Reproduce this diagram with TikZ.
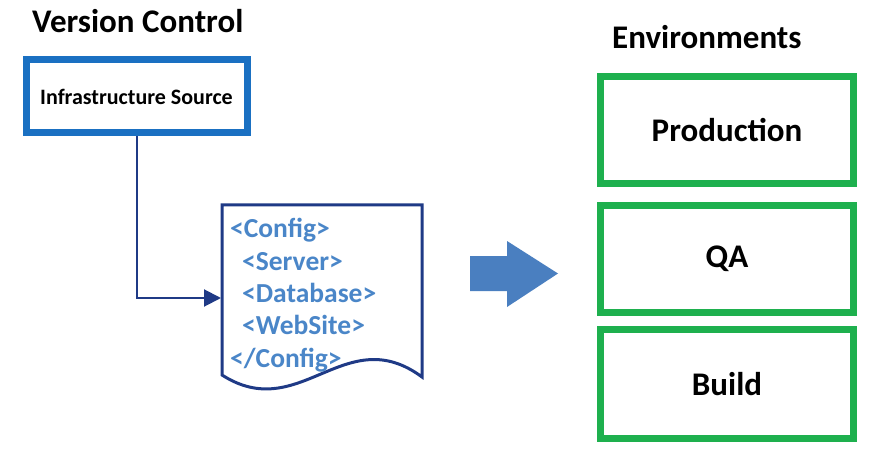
\documentclass[tikz,border=0pt]{standalone}
\usepackage{fontspec}
\setmainfont{Carlito}
\usetikzlibrary{arrows.meta}
\definecolor{srcblue}{HTML}{1A70C2}
\definecolor{envgreen}{HTML}{1EB04E}
\definecolor{navy}{HTML}{1F3A86}
\definecolor{xmlblue}{HTML}{4A86C8}
\definecolor{arrowblue}{HTML}{4A7FC0}
\tikzset{
  title/.style={font=\bfseries\fontsize{33}{36}\selectfont, anchor=base west, inner sep=0pt},
  srcbox/.style={draw=srcblue, line width=7pt, minimum width=221pt, minimum height=73pt, inner sep=0pt,
    font=\bfseries\fontsize{22}{24}\selectfont},
  envbox/.style={draw=envgreen, line width=7pt, minimum width=253pt, inner sep=0pt,
    font=\bfseries\fontsize{33}{36}\selectfont},
  xml/.style={text=xmlblue, font=\bfseries\fontsize{27.5}{30}\selectfont, anchor=base west, inner sep=0pt},
  conn/.style={draw=navy, line width=2pt, -{Triangle[length=17pt,width=17pt]}},
}
\begin{document}
\begin{tikzpicture}[x=1pt,y=-1pt]
\useasboundingbox (0,0) rectangle (877,454);
\node[title] (vc) at (32,33) {Version Control};
\node[title] (envt) at (612,49) {Environments};
\node[srcbox] (src) at (136.5,96.5) {Infrastructure Source};
% document shape
\draw[navy, line width=3pt, line join=miter] (222,375) -- (222,205) -- (422,205) -- (422,377)
  .. controls (345,320) and (300,425) .. (222,375) -- cycle;
\coordinate (docin) at (221,298);
\node[xml] (x1) at (230,237) {<Config>};
\node[xml] (x2) at (242,270) {<Server>};
\node[xml] (x3) at (242,302) {<Database>};
\node[xml] (x4) at (242,334) {<WebSite>};
\node[xml] (x5) at (230,367) {</Config>};
\draw[conn] (src.south) |- (docin);
% block arrow
\fill[arrowblue] (470,256) -- (507,256) -- (507,241) -- (558,273.5) -- (507,307) -- (507,291) -- (470,291) -- cycle;
\node[envbox, minimum height=107pt] (prod) at (727,130) {Production};
\node[envbox, minimum height=107pt] (qa) at (727,259) {QA};
\node[envbox, minimum height=109pt] (build) at (727,384) {Build};
\end{tikzpicture}
\end{document}
